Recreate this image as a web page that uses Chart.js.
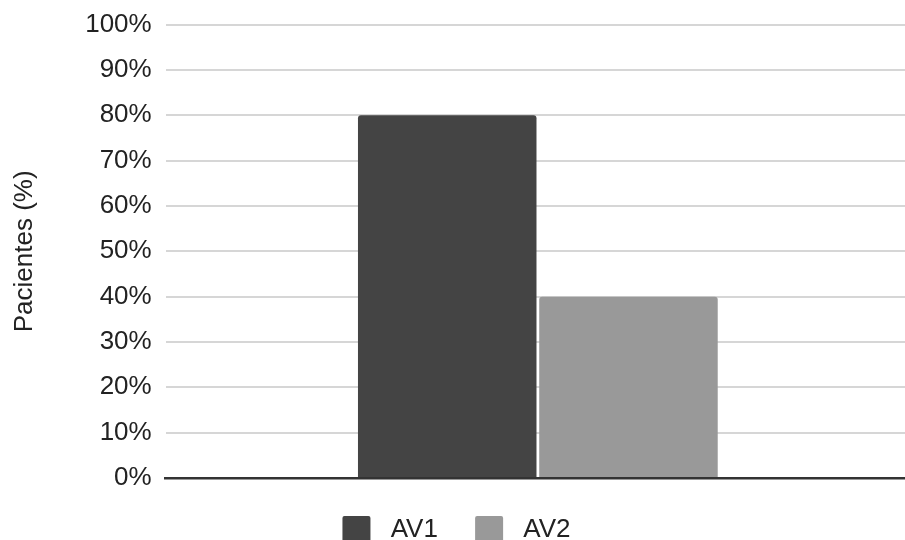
<!DOCTYPE html>
<html>
<head>
<meta charset="utf-8">
<script src="https://cdn.jsdelivr.net/npm/chart.js@4.4.0/dist/chart.umd.min.js"></script>
<style>
  html, body { margin: 0; padding: 0; background: #fff; overflow: hidden; }
  #wrap { width: 910px; height: 559px; position: relative; margin-top: -5px; }
</style>
</head>
<body>
<div id="wrap"><canvas id="c"></canvas></div>
<script>
// Share of patients per visit
const categories = [''];
const seriesNames = ['AV1', 'AV2'];
const av1Values = [80];
const av2Values = [40];
const seriesColors = ['#444444', '#999999'];
const yTicks = [0, 10, 20, 30, 40, 50, 60, 70, 80, 90, 100];

const font = 'Liberation Sans, Arial, sans-serif';

new Chart(document.getElementById('c'), {
  type: 'bar',
  data: {
    labels: categories,
    datasets: [
      { label: seriesNames[0], data: av1Values, backgroundColor: seriesColors[0] },
      { label: seriesNames[1], data: av2Values, backgroundColor: seriesColors[1] }
    ]
  },
  options: {
    responsive: true,
    maintainAspectRatio: false,
    animation: false,
    layout: { padding: { top: 3, right: 0, left: 3, bottom: 0 } },
    datasets: {
      bar: {
        categoryPercentage: 0.487,
        barPercentage: 0.985,
        borderRadius: { topLeft: 3, topRight: 3 },
        borderSkipped: 'start'
      }
    },
    plugins: {
      legend: {
        position: 'bottom',
        labels: {
          boxWidth: 28,
          boxHeight: 28,
          padding: 30,
          useBorderRadius: true,
          borderRadius: 2,
          color: '#222',
          font: { family: font, size: 26 },
          // a little extra room between swatch and name
          generateLabels: (chart) => Chart.defaults.plugins.legend.labels.generateLabels(chart)
            .map((item, i) => Object.assign(item, { text: ' ' + item.text + (i === 0 ? ' ' : '') }))
        }
      },
      tooltip: { enabled: false }
    },
    scales: {
      x: {
        ticks: { display: false },
        grid: { display: false },
        border: { display: true, color: '#333', width: 2.5 }
      },
      y: {
        min: 0,
        max: 100,
        afterBuildTicks: (axis) => { axis.ticks = yTicks.map(v => ({ value: v })); },
        ticks: {
          color: '#222',
          padding: 14,
          font: { family: font, size: 26 },
          callback: (v) => v + '%'
        },
        grid: { color: '#d6d6d6', lineWidth: 2, drawTicks: false },
        border: { display: false },
        title: {
          display: true,
          text: 'Pacientes (%)',
          color: '#222',
          padding: { top: 6, bottom: 31 },
          font: { family: font, size: 26 }
        }
      }
    }
  }
});
</script>
</body>
</html>
